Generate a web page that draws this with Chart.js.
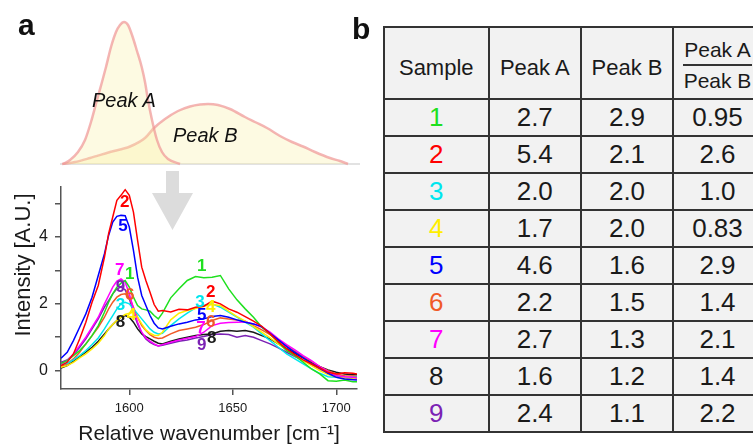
<!DOCTYPE html>
<html>
<head>
<meta charset="utf-8">
<script src="https://cdn.jsdelivr.net/npm/chart.js@4.4.1/dist/chart.umd.min.js"></script>
<style>
  html, body { margin:0; padding:0; background:#fff; overflow:hidden; }
  #wrap { position:relative; width:753px; height:445px; overflow:hidden; font-family:"Liberation Sans", Arial, sans-serif; color:#1a1a1a; }
  #schem { position:absolute; left:0; top:0; }
  #spec { position:absolute; left:0; top:180px; }
  .panel { position:absolute; font-weight:bold; font-size:30px; line-height:30px; color:#111; }
  .pk { position:absolute; font-style:italic; font-size:20px; line-height:20px; color:#111; }
  #ytitle { position:absolute; left:23px; top:265px; transform:translate(-50%,-50%) rotate(-90deg); font-size:22px; white-space:nowrap; color:#1a1a1a; }
  #arrow { position:absolute; left:0; top:0; z-index:2; }
  #tbl { position:absolute; left:383px; top:26px; border-collapse:collapse; table-layout:fixed; width:378px; background:#f2f2f2; }
  #tbl th, #tbl td { border:2px solid #333; text-align:center; padding:0; font-weight:normal; }
  #tbl th { height:72px; font-size:22px; vertical-align:middle; padding-top:10px; box-sizing:border-box; }
  #tbl th.frac { vertical-align:top; padding-top:8px; font-size:21px; }
  #tbl th.frac .num { display:inline-block; line-height:28px; border-bottom:2px solid #333; padding:0 1px; }
  #tbl th.frac .den { display:block; line-height:30px; }
  #tbl td { height:35px; font-size:26px; line-height:35px; }
</style>
</head>
<body>
<div id="wrap">
  <canvas id="schem" width="370" height="180"></canvas>
  <canvas id="spec" width="370" height="265"></canvas>
  <div class="panel" style="left:18px; top:10px;">a</div>
  <div class="panel" style="left:352px; top:14px;">b</div>
  <div class="pk" style="left:92px; top:90px;">Peak A</div>
  <div class="pk" style="left:173px; top:125px;">Peak B</div>
  <div id="ytitle">Intensity [A.U.]</div>
  <svg id="arrow" width="370" height="260"><polygon points="166,171 179,171 179,193 193,193 172.5,230 152,193 166,193" fill="#dcdcdc"/></svg>
  <table id="tbl">
    <colgroup><col style="width:104.5px"><col style="width:92.5px"><col style="width:92px"><col style="width:89px"></colgroup>
    <thead><tr><th>Sample</th><th>Peak A</th><th>Peak B</th><th class="frac"><span class="num">Peak A</span><span class="den">Peak B</span></th></tr></thead>
    <tbody id="tbody"></tbody>
  </table>
</div>
<script>
// ---------- data ----------
const sampleNames = ['1','2','3','4','5','6','7','8','9'];
const sampleColors = ['#1fe01f','#ff0000','#00e6ee','#ffee00','#0000ff','#f05a28','#ff00ff','#1a1a1a','#7b22b4'];
const tablePeakA = ['2.7','5.4','2.0','1.7','4.6','2.2','2.7','1.6','2.4'];
const tablePeakB = ['2.9','2.1','2.0','2.0','1.6','1.5','1.3','1.2','1.1'];
const tableRatio = ['0.95','2.6','1.0','0.83','2.9','1.4','2.1','1.4','2.2'];

const wavenumbers = [1567,1570,1573,1576,1579,1582,1585,1588,1590,1592,1594,1596,1598,1600,1602,1604,1606,1608,1610,1612,1614,1616,1620,1624,1628,1632,1636,1640,1644,1648,1652,1656,1660,1664,1668,1672,1676,1680,1684,1688,1692,1696,1700,1704,1708,1710];

const s1 = [0.22,0.3,0.45,0.6,0.8,1.05,1.35,1.75,2.05,2.3,2.5,2.62,2.7,2.5,2.2,1.95,1.85,1.82,1.78,1.65,1.55,1.72,2.18,2.45,2.7,2.82,2.78,2.8,2.85,2.45,2.12,1.85,1.6,1.3,1.1,0.85,0.6,0.45,0.25,0.05,-0.1,-0.3,-0.32,-0.28,-0.33,-0.33];
const s2 = [0.15,0.25,0.5,0.95,1.45,2.05,2.55,3.4,4.1,4.6,5.1,5.25,5.42,5.25,4.75,3.9,3.1,2.7,2.35,1.98,1.78,1.8,1.76,1.84,1.82,1.9,1.93,2.08,2.0,1.85,1.75,1.62,1.48,1.33,1.1,0.86,0.65,0.48,0.32,0.2,0.08,-0.05,-0.1,-0.06,-0.08,-0.1];
const s3 = [0.18,0.22,0.32,0.45,0.6,0.78,0.98,1.25,1.45,1.65,1.85,2.0,2.05,2.0,1.85,1.7,1.55,1.4,1.25,1.15,1.1,1.12,1.35,1.55,1.72,1.88,1.95,2.0,1.9,1.75,1.6,1.45,1.3,1.1,0.9,0.7,0.5,0.35,0.2,0.05,-0.08,-0.18,-0.2,-0.22,-0.2,-0.2];
const s4 = [0.1,0.15,0.25,0.38,0.5,0.65,0.82,1.05,1.25,1.38,1.5,1.6,1.68,1.72,1.75,1.6,1.4,1.22,1.12,1.06,1.05,1.15,1.52,1.72,1.8,1.86,1.93,1.98,1.95,1.78,1.62,1.48,1.32,1.15,0.98,0.8,0.62,0.45,0.3,0.15,0.0,-0.12,-0.2,-0.22,-0.22,-0.24];
const s5 = [0.37,0.55,0.9,1.3,1.7,2.2,2.85,3.5,4.05,4.45,4.62,4.65,4.64,4.3,3.6,2.8,2.25,1.95,1.65,1.42,1.28,1.25,1.33,1.4,1.45,1.52,1.55,1.62,1.65,1.6,1.52,1.45,1.4,1.32,1.12,0.92,0.72,0.55,0.38,0.22,0.08,-0.08,-0.2,-0.25,-0.27,-0.28];
const s6 = [0.12,0.2,0.35,0.55,0.8,1.05,1.3,1.6,1.85,2.05,2.2,2.28,2.3,2.2,1.9,1.6,1.35,1.2,1.08,1.0,0.96,0.98,1.1,1.2,1.25,1.3,1.38,1.5,1.58,1.55,1.52,1.48,1.35,1.22,1.08,0.9,0.74,0.58,0.42,0.28,0.12,0.0,-0.1,-0.15,-0.16,-0.18];
const s7 = [0.2,0.3,0.5,0.75,1.0,1.3,1.6,2.0,2.25,2.5,2.68,2.75,2.65,2.3,1.85,1.45,1.15,0.98,0.88,0.8,0.74,0.78,0.85,0.92,0.97,1.02,1.15,1.35,1.42,1.44,1.45,1.46,1.4,1.3,1.15,0.95,0.78,0.62,0.45,0.3,0.12,-0.02,-0.15,-0.18,-0.2,-0.22];
const s8 = [0.08,0.15,0.28,0.42,0.55,0.7,0.88,1.1,1.25,1.38,1.5,1.6,1.65,1.6,1.45,1.25,1.1,1.02,0.95,0.88,0.82,0.8,0.88,0.95,1.0,1.05,1.08,1.1,1.18,1.2,1.18,1.2,1.15,1.05,0.95,0.8,0.66,0.52,0.38,0.25,0.12,0.02,-0.05,-0.1,-0.12,-0.12];
const s9 = [0.25,0.32,0.48,0.7,0.95,1.25,1.55,1.9,2.1,2.3,2.45,2.5,2.42,2.15,1.75,1.4,1.12,0.95,0.85,0.78,0.74,0.76,0.82,0.88,0.92,0.98,1.02,1.08,1.1,1.08,1.0,1.05,1.0,0.9,0.8,0.68,0.55,0.42,0.3,0.18,0.05,-0.08,-0.15,-0.2,-0.24,-0.25];
const spectra = [s1,s2,s3,s4,s5,s6,s7,s8,s9];
// draw order (first drawn at the bottom)
const drawOrder = [8,7,5,2,3,6,0,4,1];

// number labels on the curves (data coordinates)
const peakLabelX = [1600.2,1597.8,1595.7,1601,1597,1600.2,1595.4,1595.7,1595.7];
const peakLabelY = [2.89,5.05,1.95,1.65,4.33,2.25,2.99,1.46,2.5];
const bandLabelX = [1635,1639.3,1634.1,1639.3,1635,1639.3,1634.6,1639.8,1635];
const bandLabelY = [3.11,2.35,2.05,1.9,1.65,1.46,1.26,0.96,0.76];

// schematic peaks (x along sketch, height above baseline)
const peakAx = [63,70,78,85,91,97,102,106,111,116,120,124,128,132,137,141.7,145,148,152,157,162,168,180];
const peakAy = [0,4,12,24,42,64,82,97,117,132,139,142,139,129,113,97,82,64,44,24,12,5,0];
const peakBx = [62,75,90,110,130,145,154,165,178,190,200,208,218,230,245,255,267,280,292,303,315,330,340,348];
const peakBy = [0,2,6,12,17.5,26,36,45,53,57.5,59.5,60,59,55,47,42,36,28,22,17.5,12,6,3,0];
const baseX = [60,360];
const baseY = [0,0];

const FONT = '"Liberation Sans", Arial, sans-serif';
Chart.defaults.font.family = FONT;
Chart.defaults.color = '#1a1a1a';

// ---------- table ----------
const tb = document.getElementById('tbody');
sampleNames.forEach((n,i)=>{
  const tr = document.createElement('tr');
  tr.innerHTML = `<td style="color:${sampleColors[i]}">${n}</td><td>${tablePeakA[i]}</td><td>${tablePeakB[i]}</td><td>${tableRatio[i]}</td>`;
  tb.appendChild(tr);
});

// ---------- schematic ----------
const pts = (xs, ys) => xs.map((x,i)=>({x, y: ys[i]}));
new Chart(document.getElementById('schem'), {
  type:'line',
  data:{ datasets:[
    { data: pts(peakAx, peakAy), borderColor:'rgba(240,150,150,0.7)', backgroundColor:'rgba(250,238,160,0.3)', borderWidth:2.5, fill:'origin', pointRadius:0, cubicInterpolationMode:'monotone', clip:6 },
    { data: pts(peakBx, peakBy), borderColor:'rgba(240,150,150,0.7)', backgroundColor:'rgba(250,238,160,0.3)', borderWidth:2.5, fill:'origin', pointRadius:0, cubicInterpolationMode:'monotone', clip:6 },
    { data: pts(baseX, baseY), borderColor:'#e2e2e2', borderWidth:2, fill:false, pointRadius:0, clip:6, order:5 }
  ]},
  options:{
    responsive:false, animation:false, devicePixelRatio:1,
    layout:{ padding:{ left:60, right:10, top:14, bottom:16 } },
    plugins:{ legend:{display:false}, tooltip:{enabled:false} },
    scales:{
      x:{ type:'linear', min:60, max:360, display:false },
      y:{ min:0, max:150, display:false }
    }
  }
});

// ---------- spectra ----------
const lineLabels = {
  id:'lineLabels',
  afterDatasetsDraw(chart){
    const {ctx, scales:{x, y}} = chart;
    ctx.save();
    ctx.font = 'bold 17px ' + FONT;
    ctx.textAlign = 'center';
    ctx.textBaseline = 'middle';
    sampleNames.forEach((n,i)=>{
      ctx.fillStyle = sampleColors[i];
      ctx.fillText(n, x.getPixelForValue(peakLabelX[i]), y.getPixelForValue(peakLabelY[i]));
      ctx.fillText(n, x.getPixelForValue(bandLabelX[i]), y.getPixelForValue(bandLabelY[i]));
    });
    ctx.restore();
  }
};

new Chart(document.getElementById('spec'), {
  type:'line',
  data:{ datasets: drawOrder.map((k, j)=>({
    label: sampleNames[k],
    data: wavenumbers.map((w,i)=>({x:w, y:spectra[k][i]})),
    borderColor: sampleColors[k],
    borderWidth: 1.5,
    pointRadius: 0,
    tension: 0,
    fill: false,
    order: drawOrder.length - j
  })) },
  options:{
    responsive:false, animation:false, devicePixelRatio:1,
    layout:{ padding:{ left:0, right:13, top:7, bottom:0 } },
    plugins:{ legend:{display:false}, tooltip:{enabled:false} },
    scales:{
      x:{
        type:'linear', min:1567, max:1710,
        afterFit(s){ s.height = 56; s.paddingLeft = 0; s.paddingRight = 0; },
        border:{ display:true, color:'#555', width:1.5 },
        grid:{ display:true, drawOnChartArea:false, drawTicks:true, tickLength:6, color:'#555', lineWidth:1.5 },
        ticks:{ stepSize:50, includeBounds:false, padding:6, color:'#1a1a1a', font:{ size:13 }, maxRotation:0,
                callback:v=>String(v) },
        title:{ display:true, text:'Relative wavenumber [cm\u207B\u00B9]', font:{ size:21, lineHeight:1 }, color:'#1a1a1a', padding:{top:0,bottom:0} }
      },
      y:{
        min:-0.55, max:5.5,
        afterFit(s){ s.width = 61; s.paddingTop = 0; s.paddingBottom = 0; },
        border:{ display:true, color:'#555', width:1.5 },
        grid:{ display:true, drawOnChartArea:false, drawTicks:true, tickLength:6, color:'#555', lineWidth:1.5 },
        ticks:{ stepSize:1, includeBounds:false, padding:7, color:'#1a1a1a', font:{ size:16 },
                callback:v=> (Math.round(v) % 2 === 0 ? String(Math.round(v)) : '') }
      }
    }
  },
  plugins:[lineLabels]
});
</script>
</body>
</html>
